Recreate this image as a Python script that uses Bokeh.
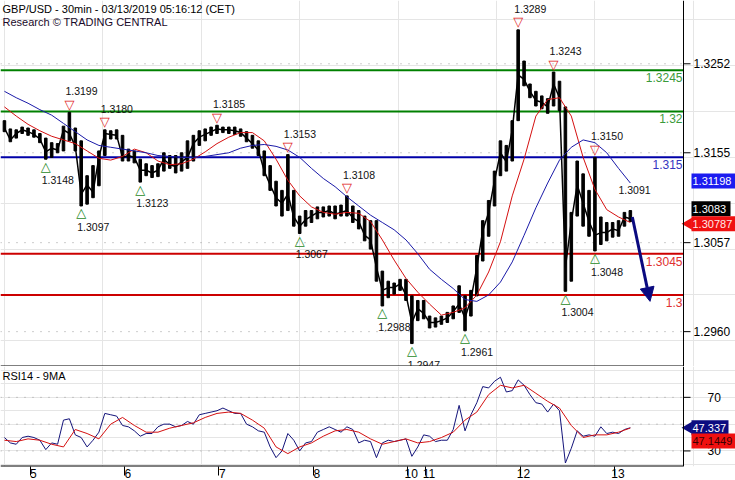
import math
from bokeh.plotting import figure
from bokeh.models import (Range1d, FixedTicker, LinearAxis, Label, Span, Arrow,
                          NormalHead, ColumnDataSource)
from bokeh.layouts import column
from bokeh.embed import file_html
from bokeh.resources import INLINE
from bokeh.core.properties import value

FONT = "Liberation Sans"

# ---------------- data (x in 30-minute bars) ----------------
SAMPLE_STEP = 3   # bars between price / RSI samples
MA_STEP = 6       # bars between moving-average samples

price_high = [1.3190, 1.3181, 1.3180, 1.3183, 1.3182, 1.3180, 1.3176, 1.3171, 1.3166, 1.3165,
              1.3184, 1.3199, 1.3182, 1.3168, 1.3130, 1.3141, 1.3157, 1.3180, 1.3179, 1.3180,
              1.3174, 1.3159, 1.3157, 1.3148, 1.3143, 1.3141, 1.3143, 1.3155, 1.3152, 1.3152,
              1.3155, 1.3168, 1.3174, 1.3179, 1.3181, 1.3183, 1.3185, 1.3183, 1.3183, 1.3183,
              1.3181, 1.3178, 1.3174, 1.3168, 1.3157, 1.3141, 1.3124, 1.3114, 1.3153, 1.3114,
              1.3086, 1.3092, 1.3092, 1.3096, 1.3096, 1.3097, 1.3097, 1.3098, 1.3108, 1.3097,
              1.3092, 1.3086, 1.3081, 1.3081, 1.3026, 1.3015, 1.3013, 1.3017, 1.3017, 1.2999,
              1.2994, 1.2994, 1.2977, 1.2975, 1.2977, 1.2981, 1.2988, 1.3010, 1.2999, 1.3005,
              1.3043, 1.3081, 1.3103, 1.3135, 1.3168, 1.3163, 1.3190, 1.3289, 1.3255, 1.3230,
              1.3222, 1.3217, 1.3214, 1.3243, 1.3233, 1.3205, 1.3090, 1.3146, 1.3132, 1.3114,
              1.3150, 1.3085, 1.3079, 1.3079, 1.3081, 1.3090, 1.3092]
price_low = [1.3178, 1.3167, 1.3171, 1.3176, 1.3174, 1.3172, 1.3166, 1.3148, 1.3150, 1.3155,
             1.3157, 1.3168, 1.3157, 1.3097, 1.3099, 1.3106, 1.3119, 1.3152, 1.3170, 1.3170,
             1.3146, 1.3146, 1.3144, 1.3123, 1.3130, 1.3128, 1.3129, 1.3135, 1.3138, 1.3133,
             1.3135, 1.3138, 1.3146, 1.3163, 1.3168, 1.3174, 1.3176, 1.3177, 1.3176, 1.3175,
             1.3173, 1.3167, 1.3160, 1.3152, 1.3130, 1.3114, 1.3097, 1.3086, 1.3092, 1.3075,
             1.3067, 1.3075, 1.3079, 1.3083, 1.3085, 1.3086, 1.3083, 1.3086, 1.3086, 1.3079,
             1.3072, 1.3059, 1.3050, 1.3015, 1.2988, 1.2997, 1.3001, 1.3005, 1.2994, 1.2947,
             1.2972, 1.2974, 1.2964, 1.2965, 1.2968, 1.2970, 1.2974, 1.2981, 1.2961, 1.2977,
             1.2999, 1.3037, 1.3064, 1.3097, 1.3130, 1.3135, 1.3146, 1.3190, 1.3228, 1.3215,
             1.3206, 1.3203, 1.3198, 1.3206, 1.3201, 1.3004, 1.3015, 1.3086, 1.3075, 1.3064,
             1.3048, 1.3055, 1.3059, 1.3063, 1.3064, 1.3075, 1.3080]
price_close = [1.3182, 1.3169, 1.3176, 1.3180, 1.3178, 1.3175, 1.3170, 1.3156, 1.3160, 1.3158,
               1.3180, 1.3176, 1.3162, 1.3110, 1.3120, 1.3112, 1.3150, 1.3176, 1.3175, 1.3174,
               1.3150, 1.3152, 1.3150, 1.3136, 1.3136, 1.3133, 1.3136, 1.3148, 1.3142, 1.3140,
               1.3145, 1.3150, 1.3165, 1.3172, 1.3175, 1.3178, 1.3181, 1.3180, 1.3180, 1.3179,
               1.3177, 1.3171, 1.3165, 1.3158, 1.3135, 1.3120, 1.3106, 1.3100, 1.3110, 1.3085,
               1.3075, 1.3082, 1.3086, 1.3090, 1.3090, 1.3092, 1.3088, 1.3090, 1.3092, 1.3084,
               1.3080, 1.3065, 1.3060, 1.3030, 1.3005, 1.3008, 1.3008, 1.3012, 1.3000, 1.2970,
               1.2985, 1.2980, 1.2970, 1.2970, 1.2972, 1.2975, 1.2982, 1.2990, 1.2975, 1.2995,
               1.3030, 1.3070, 1.3090, 1.3125, 1.3155, 1.3145, 1.3180, 1.3240, 1.3235, 1.3222,
               1.3212, 1.3210, 1.3205, 1.3230, 1.3215, 1.3030, 1.3080, 1.3120, 1.3100, 1.3080,
               1.3065, 1.3068, 1.3068, 1.3072, 1.3070, 1.3085, 1.3083]

ma_fast = [1.3205, 1.3195, 1.3186, 1.3179, 1.3173, 1.3169, 1.3165, 1.3157, 1.3149, 1.3147,
           1.3151, 1.3159, 1.3155, 1.3146, 1.3142, 1.3143, 1.3148, 1.3156, 1.3165, 1.3172,
           1.3177, 1.3177, 1.3168, 1.3148, 1.3125, 1.3108, 1.3096, 1.3090, 1.3088, 1.3090,
           1.3089, 1.3080, 1.3060, 1.3038, 1.3018, 1.3003, 1.2990, 1.2978, 1.2981, 1.2986,
           1.3000, 1.3025, 1.3058, 1.3108, 1.3148, 1.3195, 1.3213, 1.3215, 1.3195, 1.3150,
           1.3115, 1.3093, 1.3085, 1.3079]
ma_slow = [1.3222, 1.3215, 1.3209, 1.3202, 1.3196, 1.3187, 1.3178, 1.3169, 1.3163, 1.3161,
           1.3159, 1.3157, 1.3155, 1.3152, 1.3151, 1.3150, 1.3150, 1.3151, 1.3153, 1.3155,
           1.3160, 1.3163, 1.3164, 1.3162, 1.3158, 1.3150, 1.3138, 1.3127, 1.3118, 1.3107,
           1.3097, 1.3087, 1.3079, 1.3071, 1.3060, 1.3045, 1.3028, 1.3017, 1.3007, 1.2995,
           1.2993, 1.3000, 1.3014, 1.3036, 1.3065, 1.3095, 1.3122, 1.3147, 1.3161, 1.3169,
           1.3166, 1.3155, 1.3138, 1.3122]

rsi14 = [40, 36, 35, 40, 41, 40, 38, 31, 36, 35,
         53, 54, 42, 40, 33, 38, 44, 58, 57, 56,
         49, 48, 45, 41, 43, 43, 48, 50, 50, 48,
         49, 52, 50, 57, 58, 59, 60, 62, 60, 58,
         58, 50, 48, 45, 44, 33, 25, 30, 43, 38,
         30, 36, 37, 44, 46, 48, 46, 44, 48, 46,
         36, 38, 37, 25, 36, 38, 37, 38, 39, 26,
         33, 42, 41, 37, 38, 38, 46, 64, 45, 57,
         66, 78, 77, 82, 85, 74, 75, 83, 79, 72,
         66, 65, 59, 65, 60, 21, 32, 45, 41, 42,
         41, 48, 43, 44, 43, 46, 47.3]
rsi_ma9 = [38, 37, 39, 38, 35, 33, 46, 43, 39, 50,
           55, 49, 44, 44, 47, 49, 51, 55, 58, 59,
           58, 53, 47, 33, 28, 33, 36, 41, 45, 46,
           44, 39, 35, 37, 39, 36, 37, 40, 44, 53,
           59, 72, 79, 77, 79, 73, 67, 62, 49, 40,
           42, 42, 44, 47.1]

day_ticks = [13, 61, 109, 157, 205, 214, 262, 310]
day_labels = ["5", "6", "7", "8", "10", "11", "12", "13"]

price_ticks = [1.2960, 1.3057, 1.3155, 1.3252]
rsi_ticks = [30, 70]
rsi_grid = [30, 50, 70]

levels = [1.3245, 1.32, 1.315, 1.3045, 1.3]
level_text = ["1.3245", "1.32", "1.315", "1.3045", "1.3"]
level_line_colors = ["#008000", "#008000", "#0000a8", "#cc0000", "#cc0000"]
level_text_colors = ["#3a9a3a", "#3a9a3a", "#3535c0", "#e03030", "#e03030"]

pivot_high_bars = [33, 51, 108, 144, 174, 261, 279, 300]
pivot_high_vals = [1.3199, 1.3180, 1.3185, 1.3153, 1.3108, 1.3289, 1.3243, 1.3150]
pivot_low_bars = [21, 39, 69, 150, 192, 207, 234, 285, 300]
pivot_low_vals = [1.3148, 1.3097, 1.3123, 1.3067, 1.2988, 1.2947, 1.2961, 1.3004, 1.3048]
note_bars = [314]
note_vals = [1.3091]

forecast_bars = [319, 328]
forecast_prices = [1.3085, 1.2993]

last_close = 1.3083
last_fast = 1.30787
last_slow = 1.31198
last_rsi = 47.337
last_rsi_ma = 47.1449

# ---------------- geometry ----------------
X0, X1 = -2, 345            # bar range of the plotting area
PLOT_W = 683                # px of the plotting area
AXIS_W = 52                 # px of the right price scale
PPB = PLOT_W / (X1 - X0)    # px per bar
XR = X1 + AXIS_W / PPB      # canvas right edge in bars
MAIN_H, RSI_H = 366, 100
PY0, PY1 = 1.2922, 1.3321
RY0, RY1 = 18.4, 93.0
PPU_MAIN = MAIN_H / (PY1 - PY0)
PPU_RSI = RSI_H / (RY1 - RY0)

bars = [SAMPLE_STEP * i for i in range(len(price_close))]
ma_bars = [MA_STEP * i for i in range(len(ma_fast))]


def make_fig(h, y0, y1):
    f = figure(frame_width=PLOT_W + AXIS_W, frame_height=h,
               x_range=Range1d(X0, XR), y_range=Range1d(y0, y1),
               output_backend="svg", toolbar_location=None,
               x_axis_location=None, y_axis_location=None,
               min_border_left=0, min_border_right=0,
               min_border_top=0, min_border_bottom=0)
    f.outline_line_color = None
    f.background_fill_color = "white"
    f.border_fill_color = "white"
    return f


def grid_and_axis_line(f, ticks):
    n = len(ticks)
    f.segment(x0=[X0] * n, x1=[X1] * n, y0=ticks, y1=ticks,
              line_color="#9a9a9a", line_width=1, line_dash="1 7")
    f.add_layout(Span(location=X1, dimension="height", line_color="black", line_width=1))


def tick_marks(f, ticks, texts, label_dx):
    n = len(ticks)
    f.segment(x0=[X1] * n, x1=[X1 + 7 / PPB] * n, y0=ticks, y1=ticks,
              line_color="black", line_width=1)
    f.text(x=[X1] * n, y=ticks, text=texts, x_offset=label_dx, text_baseline="middle",
           text_align="left", text_font=value(FONT), text_font_size="12px",
           text_color="black")


def tag(f, ppu, yv, text, bg, fg, dy_px, w_px, pointer=False):
    yc = yv + dy_px / ppu
    f.rect(x=[X1 + (8 + w_px / 2) / PPB], y=[yc], width=w_px, height=15,
           width_units="screen", height_units="screen", fill_color=bg, line_color=None)
    if pointer:
        f.scatter(x=[X1 + 5 / PPB], y=[yc], marker="triangle", angle=math.pi / 2,
                  size=12, fill_color=bg, line_color=None)
    f.text(x=[X1], y=[yc], text=[text], x_offset=9, text_baseline="middle",
           text_align="left", text_font=value(FONT), text_font_size="11px",
           text_color=fg)


# ---------------- price panel ----------------
p = make_fig(MAIN_H, PY0, PY1)
grid_and_axis_line(p, price_ticks)

# separator at bottom of the price panel
p.segment(x0=[X0], x1=[X1], y0=[PY0], y1=[PY0], line_color="black", line_width=2)

nl = len(levels)
p.segment(x0=[X0] * nl, x1=[X1] * nl, y0=levels, y1=levels,
          line_color=level_line_colors, line_width=2)
p.text(x=[X1] * nl, y=levels, text=level_text, text_color=level_text_colors,
       text_align="right", text_baseline="top", x_offset=-1, y_offset=3,
       text_font=value(FONT), text_font_size="12px")

# price bars
p.vbar(x=bars, top=price_high, bottom=price_low, width=1.3, color="black")
p.line(bars, price_close, line_color="black", line_width=1.5)

# moving averages
p.line(ma_bars, ma_fast, line_color="#d41010", line_width=1)
p.line(ma_bars, ma_slow, line_color="#1a1aa8", line_width=1)

# pivots
hs = ColumnDataSource(dict(x=pivot_high_bars, y=pivot_high_vals,
                           t=["%.4f" % v for v in pivot_high_vals]))
ls = ColumnDataSource(dict(x=pivot_low_bars, y=pivot_low_vals,
                           t=["%.4f" % v for v in pivot_low_vals]))
p.text(x="x", y="y", text=value("\u25bd"), source=hs, text_color="#e02020",
       text_align="center", text_baseline="middle", y_offset=-8,
       text_font=value("DejaVu Sans"), text_font_size="13px")
p.text(x="x", y="y", text=value("\u25b3"), source=ls, text_color="#1e8a1e",
       text_align="center", text_baseline="middle", y_offset=7,
       text_font=value("DejaVu Sans"), text_font_size="13px")
p.text(x="x", y="y", text="t", source=hs, text_color="#111111", text_align="left",
       text_baseline="middle", x_offset=-4, y_offset=-21,
       text_font=value(FONT), text_font_size="10.5px")
p.text(x="x", y="y", text="t", source=ls, text_color="#111111", text_align="left",
       text_baseline="middle", x_offset=-4, y_offset=21,
       text_font=value(FONT), text_font_size="10.5px")
p.text(x=note_bars, y=note_vals, text=["%.4f" % v for v in note_vals],
       text_color="#111111", text_align="left", text_baseline="middle",
       x_offset=-4, y_offset=-21, text_font=value(FONT), text_font_size="10.5px")

# forecast arrow
p.add_layout(Arrow(end=NormalHead(size=14, fill_color="#0a0a80", line_color="#0a0a80"),
                   x_start=forecast_bars[0], y_start=forecast_prices[0],
                   x_end=forecast_bars[1], y_end=forecast_prices[1],
                   line_color="#0a0a80", line_width=3))

# titles
p.add_layout(Label(x=X0, y=PY1, x_offset=2, y_offset=-2,
                   text="GBP/USD - 30min - 03/13/2019 05:16:12 (CET)",
                   text_baseline="top", text_font=FONT, text_font_size="11px",
                   text_color="black"))
p.add_layout(Label(x=X0, y=PY1, x_offset=2, y_offset=-15,
                   text="Research \u00a9 TRADING CENTRAL",
                   text_baseline="top", text_font=FONT, text_font_size="11px",
                   text_color="#1a0a2a"))

tick_marks(p, price_ticks, ["%.4f" % t for t in price_ticks], 10)
tag(p, PPU_MAIN, last_slow, "%.5f" % last_slow, "#1c1cf0", "white", 4, 44)
tag(p, PPU_MAIN, last_close, "%.4f" % last_close, "black", "white", 10, 39)
tag(p, PPU_MAIN, last_fast, "%.5f" % last_fast, "#f01010", "#ffe8e8", -1, 44, pointer=True)

# ---------------- RSI panel ----------------
r = make_fig(RSI_H, RY0, RY1)
r.x_range = p.x_range
grid_and_axis_line(r, rsi_grid)

ax = LinearAxis(ticker=FixedTicker(ticks=day_ticks),
                major_label_overrides={t: "\u00a0\u00a0" + s for t, s in zip(day_ticks, day_labels)})
ax.major_tick_out = 9
ax.major_tick_in = 0
ax.minor_tick_line_color = None
ax.axis_line_color = None
ax.major_label_standoff = -9
ax.major_label_text_font = FONT
ax.major_label_text_font_size = "12px"
ax.major_label_text_color = "black"
r.add_layout(ax, "below")
r.segment(x0=[X0], x1=[X1], y0=[RY0], y1=[RY0], line_color="black", line_width=2)

r.line(bars, rsi14, line_color="#14147a", line_width=1)
r.line(ma_bars, rsi_ma9, line_color="#d41010", line_width=1)

r.add_layout(Label(x=X0, y=RY1, x_offset=2, y_offset=-3, text="RSI14 - 9MA",
                   text_baseline="top", text_font=FONT, text_font_size="11px",
                   text_color="black"))

tick_marks(r, rsi_ticks, [str(t) for t in rsi_ticks], 24)
tag(r, PPU_RSI, last_rsi, "%.3f" % last_rsi, "#0c0c80", "white", 0, 37, pointer=True)
tag(r, PPU_RSI, last_rsi_ma, "%.4f" % last_rsi_ma, "#f01010", "#3a0000", -13, 44)

layout = column(p, r, spacing=0)
open("out.html", "w").write(file_html(layout, INLINE))
